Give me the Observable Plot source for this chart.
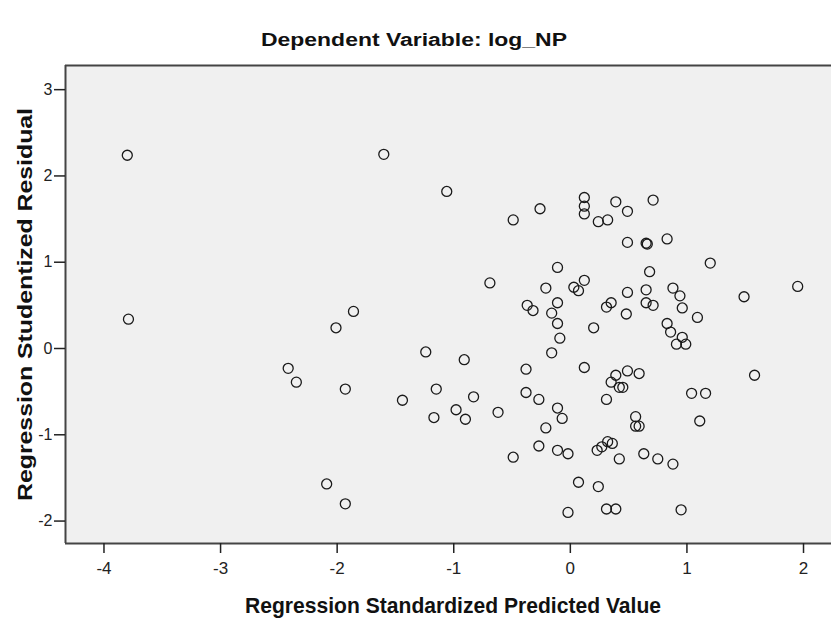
<!DOCTYPE html>
<html><head><meta charset="utf-8">
<script src="https://cdn.jsdelivr.net/npm/d3@7"></script>
<script src="https://cdn.jsdelivr.net/npm/@observablehq/plot@0.6"></script>
<style>body{margin:0;background:#fff}</style>
</head><body><div id="chart"></div>
<script>
const predicted = [-3.80,-1.60,-3.79,-1.86,-2.01,-2.42,-2.35,-1.93,-1.44,-2.09,-1.93,-1.24,-0.91,-1.15,-0.83,-1.17,-0.98,-0.90,-0.62,-0.49,
  -0.38,-0.38,-0.27,-0.11,-0.07,-0.21,-0.27,-0.11,-0.02,0.07,0.24,-0.02,0.31,0.39,0.95,0.12,0.31,0.35,0.39,0.49,
  0.59,0.42,0.45,0.56,0.56,0.59,0.23,0.27,0.32,0.36,0.42,0.63,0.75,0.88,1.04,1.16,1.11,1.58,-0.37,-0.32,
  -0.11,-0.16,-0.11,-0.09,-0.16,0.20,0.31,0.35,0.48,0.65,0.71,0.83,0.86,0.96,0.94,1.09,0.96,0.91,0.99,1.49,
  -1.06,-0.49,-0.26,0.12,0.12,0.12,0.24,0.32,0.39,0.49,0.71,0.49,0.65,0.66,0.83,1.20,-0.11,-0.69,-0.21,0.03,
  0.07,0.12,0.49,0.65,0.68,0.88,1.95];
const residual = [2.24,2.25,0.34,0.43,0.24,-0.23,-0.39,-0.47,-0.60,-1.57,-1.80,-0.04,-0.13,-0.47,-0.56,-0.80,-0.71,-0.82,-0.74,-1.26,
  -0.24,-0.51,-0.59,-0.69,-0.81,-0.92,-1.13,-1.18,-1.22,-1.55,-1.60,-1.90,-1.86,-1.86,-1.87,-0.22,-0.59,-0.39,-0.31,-0.26,
  -0.29,-0.45,-0.45,-0.79,-0.90,-0.90,-1.18,-1.14,-1.08,-1.10,-1.28,-1.22,-1.28,-1.34,-0.52,-0.52,-0.84,-0.31,0.50,0.44,
  0.53,0.41,0.29,0.12,-0.05,0.24,0.48,0.53,0.40,0.53,0.50,0.29,0.19,0.47,0.61,0.36,0.13,0.05,0.05,0.60,
  1.82,1.49,1.62,1.75,1.65,1.56,1.47,1.49,1.70,1.59,1.72,1.23,1.22,1.21,1.27,0.99,0.94,0.76,0.70,0.71,
  0.67,0.79,0.65,0.68,0.89,0.70,0.72];
const xTicks = [-4,-3,-2,-1,0,1,2];
const yTicks = [-2,-1,0,1,2,3];
const titleText = "Dependent Variable: log_NP";
const xLabel = "Regression Standardized Predicted Value";
const yLabel = "Regression Studentized Residual";

const data = predicted.map((x, i) => ({x, y: residual[i]}));
const xDomain = [-4.33, 2.24];
const yDomain = [-2.26, 3.28];
const narrow = "'Liberation Sans Narrow','Arial Narrow','Liberation Sans',Arial,sans-serif";
const fmt = d => String(d);

const chart = Plot.plot({
  width: 831, height: 619,
  marginTop: 65, marginLeft: 65, marginRight: 0, marginBottom: 76,
  style: {fontFamily: narrow, fontSize: "16px", color: "#222", background: "#fff"},
  x: {domain: xDomain, label: null},
  y: {domain: yDomain, label: null},
  marks: [
    Plot.frame({fill: "#f0f0f0", stroke: null}),
    Plot.dot(data, {x: "x", y: "y", r: 5, stroke: "#1a1a1a", strokeWidth: 1.3, fill: "none"}),
    Plot.ruleX([xDomain[0]], {stroke: "#444", strokeWidth: 2}),
    Plot.ruleY(yDomain, {stroke: "#444", strokeWidth: 2}),
    Plot.axisX(xTicks, {tickSize: 10, tickPadding: 8, strokeWidth: 1.5, label: null, fontSize: 17, tickFormat: fmt}),
    Plot.axisY(yTicks, {tickSize: 11, tickPadding: 2, strokeWidth: 1.5, label: null, fontSize: 16, tickFormat: fmt})
  ]
});
document.getElementById("chart").appendChild(chart);

const svg = d3.select(chart);
svg.append("text").text(titleText)
  .attr("x", 414).attr("y", 46).attr("text-anchor", "middle")
  .attr("font-family", narrow).attr("font-size", 18).attr("font-weight", "bold").attr("fill", "#111")
  .attr("textLength", 306).attr("lengthAdjust", "spacingAndGlyphs");
svg.append("text").text(xLabel)
  .attr("x", 453).attr("y", 613).attr("text-anchor", "middle")
  .attr("font-family", narrow).attr("font-size", 22).attr("font-weight", "bold").attr("fill", "#111")
  .attr("textLength", 416).attr("lengthAdjust", "spacingAndGlyphs");
svg.append("text").text(yLabel)
  .attr("transform", "translate(32,304.5) rotate(-90)").attr("text-anchor", "middle")
  .attr("font-family", "'Liberation Sans',Arial,sans-serif").attr("font-size", 21).attr("font-weight", "bold").attr("fill", "#111")
  .attr("textLength", 393).attr("lengthAdjust", "spacingAndGlyphs");
</script></body></html>
